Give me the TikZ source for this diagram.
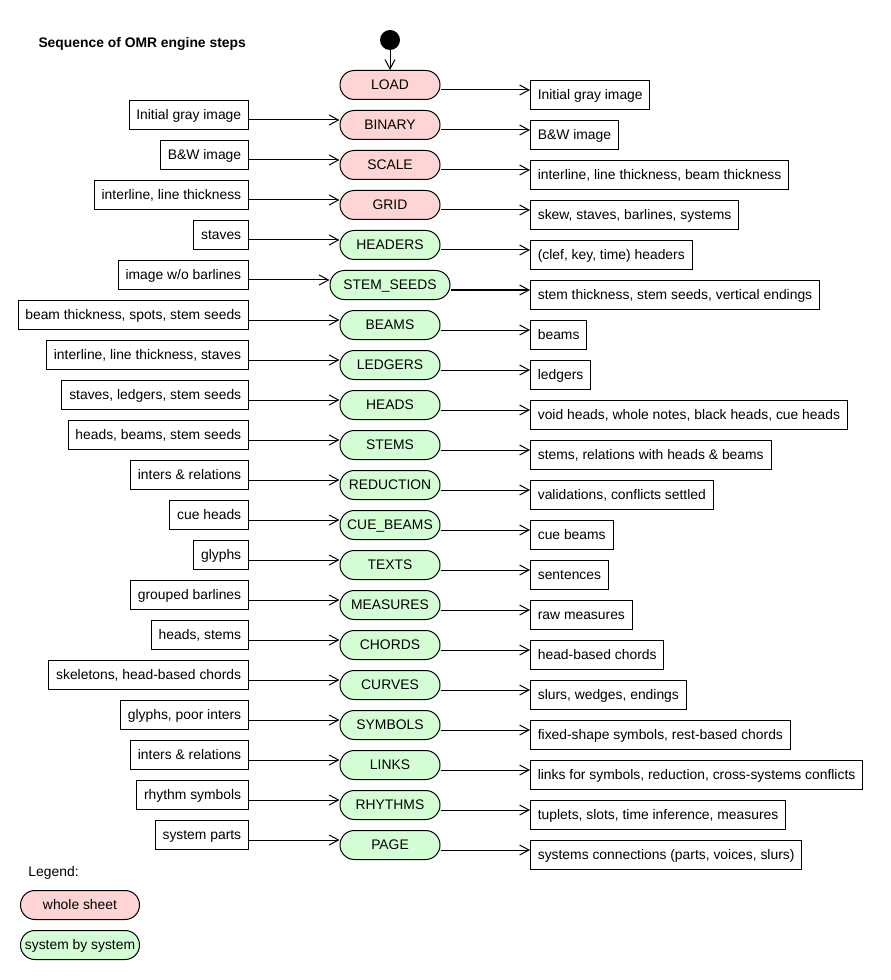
\documentclass[tikz,border=0pt]{standalone}
\usepackage{fontspec}
\setmainfont{Liberation Sans}
\usetikzlibrary{arrows.meta}
\definecolor{ffd4d4}{rgb}{1.,0.83,0.83}
\definecolor{d4ffd4}{rgb}{0.83,1.,0.83}
\tikzset{
  stepnode/.style={draw,rounded corners=10.8pt,minimum width=75pt,minimum height=21.75pt,inner xsep=4pt,text height=7.4pt,text depth=0pt},
  sheetstep/.style={stepnode,fill=ffd4d4},
  systemstep/.style={stepnode,fill=d4ffd4},
  databox/.style={draw,minimum height=21.75pt,inner xsep=5.5pt,text height=7.4pt,text depth=0pt},
  inbox/.style={databox,anchor=east},
  outbox/.style={databox,anchor=west},
}

\begin{document}
\begin{tikzpicture}[x=0.75pt,y=-0.75pt,line width=0.75pt,>={Straight Barb[length=7pt,width=7.5pt]},font=\fontsize{10.4}{12}\selectfont]
    \useasboundingbox (0,0) rectangle (890,980);
    \node[anchor=west,inner sep=0pt,font=\fontsize{10.4}{12}\selectfont\bfseries] (title) at (38,44) {Sequence of OMR engine steps};
    \node[circle,fill=black,minimum size=15pt,inner sep=0pt] (start) at (390,40) {};
    % steps
    \node[sheetstep] (sLoad) at (390,85) {LOAD};
    \node[sheetstep] (sBinary) at (390,125) {BINARY};
    \node[sheetstep] (sScale) at (390,165) {SCALE};
    \node[sheetstep] (sGrid) at (390,205) {GRID};
    \node[systemstep] (sHeaders) at (390,245) {HEADERS};
    \node[systemstep,minimum width=90pt] (sStemSeeds) at (390,285) {STEM\_SEEDS};
    \node[systemstep] (sBeams) at (390,325) {BEAMS};
    \node[systemstep] (sLedgers) at (390,365) {LEDGERS};
    \node[systemstep] (sHeads) at (390,405) {HEADS};
    \node[systemstep] (sStems) at (390,445) {STEMS};
    \node[systemstep] (sReduction) at (390,485) {REDUCTION};
    \node[systemstep] (sCueBeams) at (390,525) {CUE\_BEAMS};
    \node[systemstep] (sTexts) at (390,565) {TEXTS};
    \node[systemstep] (sMeasures) at (390,605) {MEASURES};
    \node[systemstep] (sChords) at (390,645) {CHORDS};
    \node[systemstep] (sCurves) at (390,685) {CURVES};
    \node[systemstep] (sSymbols) at (390,725) {SYMBOLS};
    \node[systemstep] (sLinks) at (390,765) {LINKS};
    \node[systemstep] (sRhythms) at (390,805) {RHYTHMS};
    \node[systemstep] (sPage) at (390,845) {PAGE};
    % inputs
    \node[inbox] (iBinary) at (249,115) {Initial gray image};
    \node[inbox] (iScale) at (249,155) {B\&W image};
    \node[inbox] (iGrid) at (249,195) {interline, line thickness};
    \node[inbox] (iHeaders) at (249,235) {staves};
    \node[inbox] (iStemSeeds) at (249,275) {image w/o barlines};
    \node[inbox] (iBeams) at (249,315) {beam thickness, spots, stem seeds};
    \node[inbox] (iLedgers) at (249,355) {interline, line thickness, staves};
    \node[inbox] (iHeads) at (249,395) {staves, ledgers, stem seeds};
    \node[inbox] (iStems) at (249,435) {heads, beams, stem seeds};
    \node[inbox] (iReduction) at (249,475) {inters \& relations};
    \node[inbox] (iCueBeams) at (249,515) {cue heads};
    \node[inbox] (iTexts) at (249,555) {glyphs};
    \node[inbox] (iMeasures) at (249,595) {grouped barlines};
    \node[inbox] (iChords) at (249,635) {heads, stems};
    \node[inbox] (iCurves) at (249,675) {skeletons, head-based chords};
    \node[inbox] (iSymbols) at (249,715) {glyphs, poor inters};
    \node[inbox] (iLinks) at (249,755) {inters \& relations};
    \node[inbox] (iRhythms) at (249,795) {rhythm symbols};
    \node[inbox] (iPage) at (249,835) {system parts};
    % outputs
    \node[outbox] (oLoad) at (530,95) {Initial gray image};
    \node[outbox] (oBinary) at (530,135) {B\&W image};
    \node[outbox] (oScale) at (530,175) {interline, line thickness, beam thickness};
    \node[outbox] (oGrid) at (530,215) {skew, staves, barlines, systems};
    \node[outbox] (oHeaders) at (530,255) {(clef, key, time) headers};
    \node[outbox] (oStemSeeds) at (530,295) {stem thickness, stem seeds, vertical endings};
    \node[outbox] (oBeams) at (530,335) {beams};
    \node[outbox] (oLedgers) at (530,375) {ledgers};
    \node[outbox] (oHeads) at (530,415) {void heads, whole notes, black heads, cue heads};
    \node[outbox] (oStems) at (530,455) {stems, relations with heads \& beams};
    \node[outbox] (oReduction) at (530,495) {validations, conflicts settled};
    \node[outbox] (oCueBeams) at (530,535) {cue beams};
    \node[outbox] (oTexts) at (530,575) {sentences};
    \node[outbox] (oMeasures) at (530,615) {raw measures};
    \node[outbox] (oChords) at (530,655) {head-based chords};
    \node[outbox] (oCurves) at (530,695) {slurs, wedges, endings};
    \node[outbox] (oSymbols) at (530,735) {fixed-shape symbols, rest-based chords};
    \node[outbox] (oLinks) at (530,775) {links for symbols, reduction, cross-systems conflicts};
    \node[outbox] (oRhythms) at (530,815) {tuplets, slots, time inference, measures};
    \node[outbox] (oPage) at (530,855) {systems connections (parts, voices, slurs)};
    % arrows
    \draw[->] (start) -- (sLoad);
    \draw[->] ([yshift=-3.75pt]iBinary.east) -- ([yshift=3.75pt]sBinary.west);
    \draw[->] ([yshift=-3.75pt]iScale.east) -- ([yshift=3.75pt]sScale.west);
    \draw[->] ([yshift=-3.75pt]iGrid.east) -- ([yshift=3.75pt]sGrid.west);
    \draw[->] ([yshift=-3.75pt]iHeaders.east) -- ([yshift=3.75pt]sHeaders.west);
    \draw[->] ([yshift=-3.75pt]iStemSeeds.east) -- ([yshift=3.75pt]sStemSeeds.west);
    \draw[->] ([yshift=-3.75pt]iBeams.east) -- ([yshift=3.75pt]sBeams.west);
    \draw[->] ([yshift=-3.75pt]iLedgers.east) -- ([yshift=3.75pt]sLedgers.west);
    \draw[->] ([yshift=-3.75pt]iHeads.east) -- ([yshift=3.75pt]sHeads.west);
    \draw[->] ([yshift=-3.75pt]iStems.east) -- ([yshift=3.75pt]sStems.west);
    \draw[->] ([yshift=-3.75pt]iReduction.east) -- ([yshift=3.75pt]sReduction.west);
    \draw[->] ([yshift=-3.75pt]iCueBeams.east) -- ([yshift=3.75pt]sCueBeams.west);
    \draw[->] ([yshift=-3.75pt]iTexts.east) -- ([yshift=3.75pt]sTexts.west);
    \draw[->] ([yshift=-3.75pt]iMeasures.east) -- ([yshift=3.75pt]sMeasures.west);
    \draw[->] ([yshift=-3.75pt]iChords.east) -- ([yshift=3.75pt]sChords.west);
    \draw[->] ([yshift=-3.75pt]iCurves.east) -- ([yshift=3.75pt]sCurves.west);
    \draw[->] ([yshift=-3.75pt]iSymbols.east) -- ([yshift=3.75pt]sSymbols.west);
    \draw[->] ([yshift=-3.75pt]iLinks.east) -- ([yshift=3.75pt]sLinks.west);
    \draw[->] ([yshift=-3.75pt]iRhythms.east) -- ([yshift=3.75pt]sRhythms.west);
    \draw[->] ([yshift=-3.75pt]iPage.east) -- ([yshift=3.75pt]sPage.west);
    \draw[->] ([yshift=-3.75pt]sLoad.east) -- ([yshift=3.75pt]oLoad.west);
    \draw[->] ([yshift=-3.75pt]sBinary.east) -- ([yshift=3.75pt]oBinary.west);
    \draw[->] ([yshift=-3.75pt]sScale.east) -- ([yshift=3.75pt]oScale.west);
    \draw[->] ([yshift=-3.75pt]sGrid.east) -- ([yshift=3.75pt]oGrid.west);
    \draw[->] ([yshift=-3.75pt]sHeaders.east) -- ([yshift=3.75pt]oHeaders.west);
    \draw[->] ([yshift=-3.75pt]sStemSeeds.east) -- ([yshift=3.75pt]oStemSeeds.west);
    \draw[->] ([yshift=-3.75pt]sBeams.east) -- ([yshift=3.75pt]oBeams.west);
    \draw[->] ([yshift=-3.75pt]sLedgers.east) -- ([yshift=3.75pt]oLedgers.west);
    \draw[->] ([yshift=-3.75pt]sHeads.east) -- ([yshift=3.75pt]oHeads.west);
    \draw[->] ([yshift=-3.75pt]sStems.east) -- ([yshift=3.75pt]oStems.west);
    \draw[->] ([yshift=-3.75pt]sReduction.east) -- ([yshift=3.75pt]oReduction.west);
    \draw[->] ([yshift=-3.75pt]sCueBeams.east) -- ([yshift=3.75pt]oCueBeams.west);
    \draw[->] ([yshift=-3.75pt]sTexts.east) -- ([yshift=3.75pt]oTexts.west);
    \draw[->] ([yshift=-3.75pt]sMeasures.east) -- ([yshift=3.75pt]oMeasures.west);
    \draw[->] ([yshift=-3.75pt]sChords.east) -- ([yshift=3.75pt]oChords.west);
    \draw[->] ([yshift=-3.75pt]sCurves.east) -- ([yshift=3.75pt]oCurves.west);
    \draw[->] ([yshift=-3.75pt]sSymbols.east) -- ([yshift=3.75pt]oSymbols.west);
    \draw[->] ([yshift=-3.75pt]sLinks.east) -- ([yshift=3.75pt]oLinks.west);
    \draw[->] ([yshift=-3.75pt]sRhythms.east) -- ([yshift=3.75pt]oRhythms.west);
    \draw[->] ([yshift=-3.75pt]sPage.east) -- ([yshift=3.75pt]oPage.west);
    % legend
    \node[anchor=west,inner sep=0pt] (legend) at (28,873) {Legend:};
    \node[sheetstep,minimum width=89.25pt,inner xsep=2pt] (lgSheet) at (80,905) {whole sheet};
    \node[systemstep,minimum width=89.25pt,inner xsep=1pt] (lgSystem) at (80,945) {system by system};
\end{tikzpicture}
\end{document}
